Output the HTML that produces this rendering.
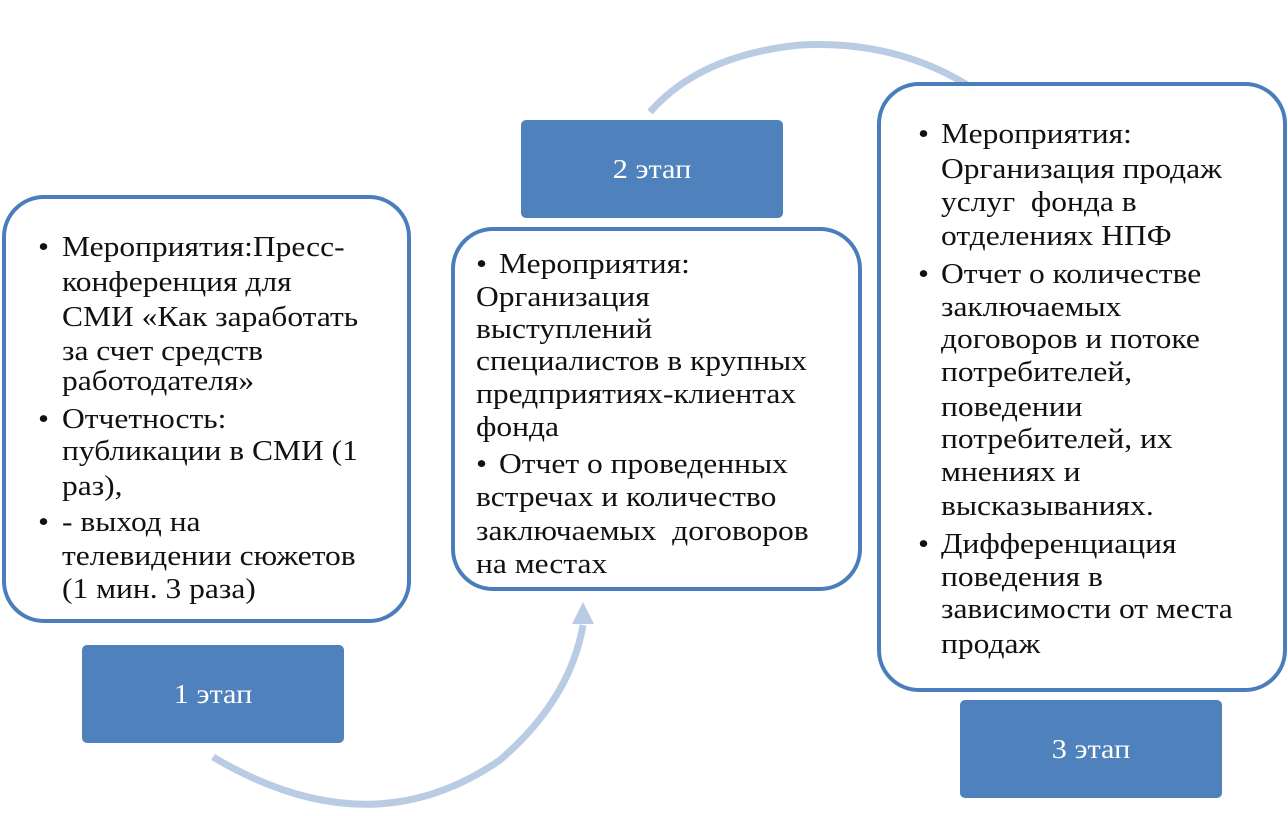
<!DOCTYPE html>
<html><head><meta charset="utf-8"><style>
body{margin:0;width:1288px;height:816px;background:#fff;position:relative;overflow:hidden;}
.box{position:absolute;border:4px solid #4a7ebb;border-radius:42px;background:rgba(255,255,255,0.93);box-sizing:border-box;}
.tag{position:absolute;background:#4f81bd;border-radius:5px;color:#fff;font-family:"Liberation Serif","Times New Roman","DejaVu Serif",serif;font-size:27px;display:flex;align-items:center;justify-content:center;}
.tag span{display:inline-block;transform:scaleX(1.12);}
.l{position:absolute;font-family:"Liberation Serif","Times New Roman","DejaVu Serif",serif;font-size:28px;line-height:30px;color:#111;white-space:nowrap;transform:scaleX(1.125);transform-origin:left center;}
</style></head><body>
<svg width="1288" height="816" style="position:absolute;left:0;top:0">
<path d="M213 757 Q370 850 500 760 Q570 700 583 625" fill="none" stroke="#b9cce4" stroke-width="7"/>
<polygon points="572,624 594,624 583,602" fill="#b9cce4"/>
<path d="M650 112 Q700 55 800 45 Q900 40 975 90" fill="none" stroke="#b9cce4" stroke-width="7"/>
</svg>
<div class="box" style="left:2px;top:195px;width:409px;height:428px"></div>
<div class="box" style="left:451px;top:227px;width:411px;height:364px"></div>
<div class="box" style="left:877px;top:82px;width:410px;height:610px"></div>
<div class="tag" style="left:82px;top:645px;width:262px;height:98px"><span>1 этап</span></div>
<div class="tag" style="left:521px;top:120px;width:262px;height:98px"><span>2 этап</span></div>
<div class="tag" style="left:960px;top:700px;width:262px;height:98px"><span>3 этап</span></div>

<div class="l" style="left:38px;top:233px">•</div>
<div class="l" style="left:62px;top:233px">Мероприятия:Пресс-</div>
<div class="l" style="left:62px;top:268px">конференция для</div>
<div class="l" style="left:62px;top:303px">СМИ «Как заработать</div>
<div class="l" style="left:62px;top:337px">за счет средств</div>
<div class="l" style="left:62px;top:367px">работодателя»</div>
<div class="l" style="left:38px;top:405px">•</div>
<div class="l" style="left:62px;top:405px">Отчетность:</div>
<div class="l" style="left:62px;top:437px">публикации в СМИ (1</div>
<div class="l" style="left:62px;top:472px">раз),</div>
<div class="l" style="left:38px;top:508px">•</div>
<div class="l" style="left:62px;top:508px">- выход на</div>
<div class="l" style="left:62px;top:542px">телевидении сюжетов</div>
<div class="l" style="left:62px;top:575px">(1 мин. 3 раза)</div>

<div class="l" style="left:476px;top:250px">•</div>
<div class="l" style="left:499px;top:250px">Мероприятия:</div>
<div class="l" style="left:476px;top:283px">Организация</div>
<div class="l" style="left:476px;top:315px">выступлений</div>
<div class="l" style="left:476px;top:347px">специалистов в крупных</div>
<div class="l" style="left:476px;top:380px">предприятиях-клиентах</div>
<div class="l" style="left:476px;top:413px">фонда</div>
<div class="l" style="left:476px;top:450px">•</div>
<div class="l" style="left:499px;top:450px">Отчет о проведенных</div>
<div class="l" style="left:476px;top:483px">встречах и количество</div>
<div class="l" style="left:476px;top:517px">заключаемых&nbsp; договоров</div>
<div class="l" style="left:476px;top:550px">на местах</div>

<div class="l" style="left:918px;top:120px">•</div>
<div class="l" style="left:941px;top:120px">Мероприятия:</div>
<div class="l" style="left:941px;top:155px">Организация продаж</div>
<div class="l" style="left:941px;top:188px">услуг&nbsp; фонда в</div>
<div class="l" style="left:941px;top:222px">отделениях НПФ</div>
<div class="l" style="left:918px;top:260px">•</div>
<div class="l" style="left:941px;top:260px">Отчет о количестве</div>
<div class="l" style="left:941px;top:293px">заключаемых</div>
<div class="l" style="left:941px;top:325px">договоров и потоке</div>
<div class="l" style="left:941px;top:358px">потребителей,</div>
<div class="l" style="left:941px;top:393px">поведении</div>
<div class="l" style="left:941px;top:425px">потребителей, их</div>
<div class="l" style="left:941px;top:458px">мнениях и</div>
<div class="l" style="left:941px;top:492px">высказываниях.</div>
<div class="l" style="left:918px;top:530px">•</div>
<div class="l" style="left:941px;top:530px">Дифференциация</div>
<div class="l" style="left:941px;top:563px">поведения в</div>
<div class="l" style="left:941px;top:595px">зависимости от места</div>
<div class="l" style="left:941px;top:630px">продаж</div>
</body></html>
